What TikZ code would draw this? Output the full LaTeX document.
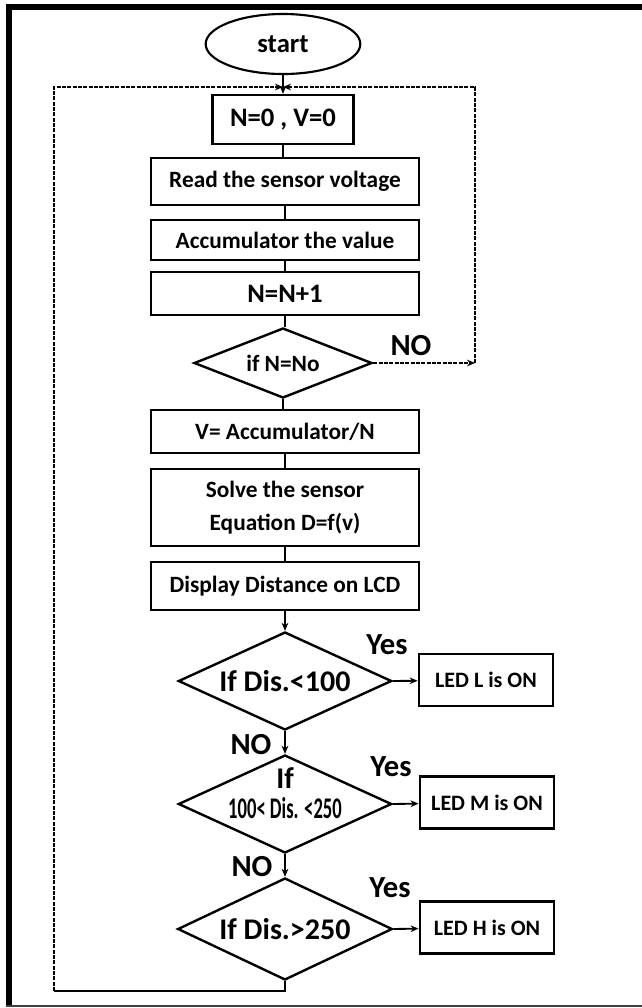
\documentclass[tikz,border=0pt]{standalone}
\usepackage{fontspec}
\setmainfont{Carlito}
\usepackage{graphicx}
\usetikzlibrary{shapes.geometric, arrows.meta}

\tikzset{
  box/.style={draw, line width=1.8pt, minimum width=201pt, inner sep=2pt,
    font=\fontsize{17.5}{25}\selectfont\bfseries, align=center},
  bigtext/.style={font=\fontsize{20}{22}\selectfont\bfseries},
  decision/.style={draw, diamond, line width=1.8pt, inner sep=0pt, shape aspect=2.15,
    font=\fontsize{22.5}{21}\selectfont\bfseries},
  ledbox/.style={draw, line width=1.6pt, minimum width=101pt, minimum height=39pt,
    font=\fontsize{16.5}{20}\selectfont\bfseries},
  flow/.style={line width=1.4pt},
  loopline/.style={line width=1.4pt, dash pattern=on 3pt off 1pt},
  lbl/.style={font=\fontsize{23}{25}\selectfont\bfseries, inner sep=0pt},
}

\begin{document}
\begin{tikzpicture}[x=0.75pt, y=-0.75pt, >={Stealth[length=6pt, width=5pt]}]
  \useasboundingbox (0,0) rectangle (642,1008);

  % frame
  \draw[line width=4.5pt] (8.5,1006) -- (8.5,6.5) -- (642,6.5);
  \draw[line width=1.2pt, black!75] (6,1006) -- (642,1006);

  % main column
  \node[draw, ellipse, line width=1.6pt, minimum width=116pt, minimum height=45pt,
    inner sep=0pt, bigtext] (start) at (283,44) {start};
  \node[box, bigtext, minimum width=105.75pt, minimum height=36.75pt] (init) at (283,119.5) {N=0 , V=0};
  \node[box, minimum height=35.25pt] (read) at (285,181.5) {Read the sensor voltage};
  \node[box, minimum height=30pt] (accum) at (285,240) {Accumulator the value};
  \node[box, bigtext, minimum height=32.25pt] (incr) at (285,293.5) {N=N+1};
  \node[decision, shape aspect=2.54, minimum width=133.5pt, minimum height=52.5pt,
    font=\fontsize{17.5}{20}\selectfont\bfseries] (chkN) at (283,363) {if N=No};
  \node[box, minimum height=32.25pt] (avg) at (285,431.5) {V= Accumulator/N};
  \node[box, minimum height=57.75pt] (solve) at (285,507.5) {Solve the sensor\\Equation D=f(v)};
  \node[box, minimum height=36pt] (disp) at (285,586) {Display Distance on LCD};

  % decisions on the distance
  \node[decision, minimum width=160pt, minimum height=73.5pt] (chkL) at (285,681) {If Dis.<100};
  \node[decision, minimum width=160pt, minimum height=73.5pt] (chkM) at (285,804)
    {\smash{\begin{tabular}{@{}c@{}}If\\\scalebox{0.62}[1]{100< Dis. <250}\end{tabular}}};
  \node[decision, minimum width=161pt, minimum height=76.5pt] (chkH) at (285,929) {If Dis.>250};

  \node[ledbox] (ledL) at (486,680) {LED L is ON};
  \node[ledbox] (ledM) at (487,802.5) {LED M is ON};
  \node[ledbox] (ledH) at (487,927.5) {LED H is ON};

  % branch labels
  \node[lbl] (noN) at (411,346) {NO};
  \node[lbl] (yesL) at (387,645) {Yes};
  \node[lbl] (noL) at (251,745) {NO};
  \node[lbl] (yesM) at (391,767) {Yes};
  \node[lbl] (noM) at (252,867) {NO};
  \node[lbl] (yesH) at (390,888) {Yes};

  % loop corners
  \coordinate (J) at (283,87);
  \coordinate (RT) at (475,87);
  \coordinate (RB) at (475,363);
  \coordinate (LT) at (54,87);
  \coordinate (LB) at (54,991);
  \coordinate (HB) at (285,991);

  % connectors
  \draw[flow, ->] (start) -- (init);
  \draw[flow] (init) -- (init |- read.north);
  \draw[flow] (read) -- (accum);
  \draw[flow] (accum) -- (incr);
  \draw[flow] (incr) -- (incr |- chkN.north);
  \draw[flow] (chkN) -- (chkN |- avg.north);
  \draw[flow] (avg) -- (solve);
  \draw[flow] (solve) -- (disp);
  \draw[flow, ->] (disp) -- (chkL);
  \draw[flow, ->] (chkL) -- (chkM);
  \draw[flow, ->] (chkM) -- (chkH);
  \draw[flow, ->] (chkL.east) -- (ledL);
  \draw[flow, ->] (chkM.east) -- (ledM);
  \draw[flow, ->] (chkH.east) -- (ledH);

  % back to the start of the measurement
  \draw[loopline, ->] (chkN.east) -- (RB);
  \draw[loopline, ->] (RB) -- (RT) -- (J);
  \draw[flow] (chkH.south) -- (HB) -- (LB);
  \draw[loopline, ->] (LB) -- (LT) -- (J);
\end{tikzpicture}
\end{document}
